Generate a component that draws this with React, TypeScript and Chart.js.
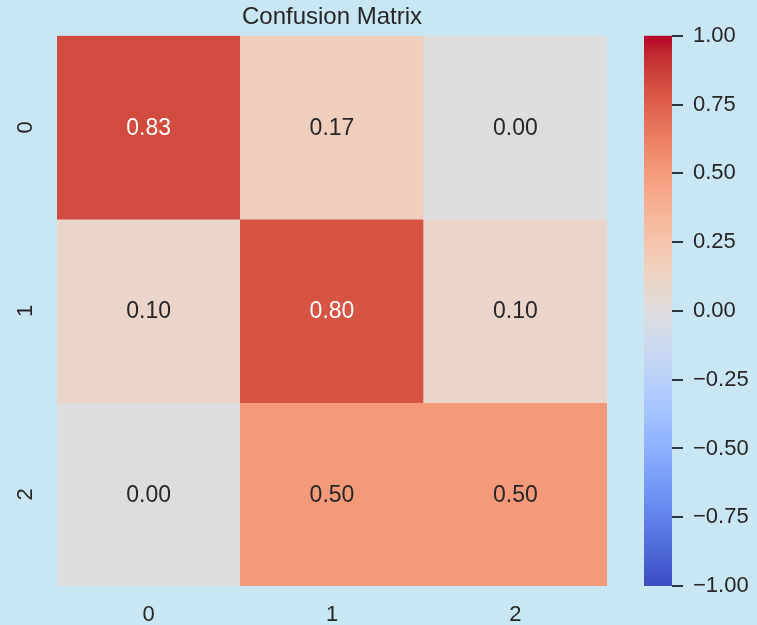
import React, { useEffect, useRef } from "react";
import { Chart, registerables } from "chart.js";

Chart.register(...registerables);

const title = "Confusion Matrix";
const xLabels = ["0", "1", "2"];
const yLabels = ["0", "1", "2"];
const row0 = [0.83, 0.17, 0.0];
const row1 = [0.1, 0.8, 0.1];
const row2 = [0.0, 0.5, 0.5];
const matrix = [row0, row1, row2];
const vmin = -1;
const vmax = 1;
const colorbarTicks = [-1, -0.75, -0.5, -0.25, 0, 0.25, 0.5, 0.75, 1];

// coolwarm colormap reference stops (Moreland)
const COOLWARM: number[][] = [
  [59, 76, 192], [68, 90, 204], [77, 104, 215], [87, 117, 225], [98, 130, 234],
  [108, 142, 241], [119, 154, 247], [130, 165, 251], [141, 176, 254], [152, 185, 255],
  [163, 194, 255], [174, 201, 253], [184, 208, 249], [194, 213, 244], [204, 217, 238],
  [213, 219, 230], [221, 221, 221], [229, 216, 209], [236, 211, 197], [241, 204, 185],
  [245, 196, 173], [247, 187, 160], [247, 177, 148], [247, 166, 135], [244, 154, 123],
  [241, 141, 111], [236, 127, 99], [229, 112, 88], [222, 96, 77], [213, 80, 66],
  [203, 62, 56], [192, 40, 47], [180, 4, 38],
];

function coolwarm(v: number): string {
  let t = (v - vmin) / (vmax - vmin);
  t = Math.max(0, Math.min(1, t));
  const pos = t * (COOLWARM.length - 1);
  const i = Math.min(COOLWARM.length - 2, Math.floor(pos));
  const f = pos - i;
  const a = COOLWARM[i];
  const b = COOLWARM[i + 1];
  const c = a.map((x, k) => Math.round(x + (b[k] - x) * f));
  return `rgb(${c[0]},${c[1]},${c[2]})`;
}

const BG = "#c9e7f3";
const TEXT = "#262626";
const FONT = "'Liberation Sans', Arial, sans-serif";

const bgPlugin = {
  id: "bg",
  beforeDraw(chart: any) {
    const ctx = chart.ctx;
    ctx.save();
    ctx.fillStyle = BG;
    ctx.fillRect(0, 0, chart.width, chart.height);
    ctx.restore();
  },
};

const annotatePlugin = {
  id: "annotate",
  afterDatasetsDraw(chart: any) {
    const ctx = chart.ctx;
    ctx.save();
    ctx.font = `23px ${FONT}`;
    ctx.textAlign = "center";
    ctx.textBaseline = "middle";
    chart.data.datasets.forEach((ds: any, di: number) => {
      const meta = chart.getDatasetMeta(di);
      meta.data.forEach((el: any, j: number) => {
        const v = ds.values[j];
        const cx = el.x;
        const cy = (el.y + el.base) / 2;
        ctx.fillStyle = v > 0.6 ? "#ffffff" : TEXT;
        ctx.fillText(v.toFixed(2), cx, cy + 1);
      });
    });
    ctx.restore();
  },
};

const yLabelPlugin = {
  id: "ylabels",
  afterDraw(chart: any) {
    const ctx = chart.ctx;
    const ys = chart.scales.y;
    ctx.save();
    ctx.font = `22px ${FONT}`;
    ctx.fillStyle = TEXT;
    ctx.textAlign = "center";
    ctx.textBaseline = "middle";
    yLabels.forEach((lab, r) => {
      const py = ys.getPixelForValue(r + 0.5);
      ctx.save();
      ctx.translate(chart.chartArea.left - 31, py);
      ctx.rotate(-Math.PI / 2);
      ctx.fillText(lab, 0, 0);
      ctx.restore();
    });
    ctx.restore();
  },
};

const colorbarPlugin = {
  id: "colorbar",
  beforeDatasetsDraw(chart: any) {
    const ctx = chart.ctx;
    const sp = chart.scales.sp;
    const cb = chart.scales.cb;
    const x1 = sp.right;
    const x0 = x1 - 28;
    const yTop = cb.getPixelForValue(vmax);
    const yBot = cb.getPixelForValue(vmin);
    const g = ctx.createLinearGradient(0, yBot, 0, yTop);
    COOLWARM.forEach((c, i) => {
      g.addColorStop(i / (COOLWARM.length - 1), `rgb(${c[0]},${c[1]},${c[2]})`);
    });
    ctx.save();
    ctx.fillStyle = g;
    ctx.fillRect(x0, yTop, x1 - x0, yBot - yTop);
    ctx.restore();
  },
};

export default function App() {
  const ref = useRef<HTMLCanvasElement | null>(null);

  useEffect(() => {
    if (!ref.current) return;
    const datasets = matrix.map((row, r) => ({
      label: yLabels[r],
      data: row.map(() => [r, r + 1]),
      values: row,
      backgroundColor: row.map((v) => coolwarm(v)),
      borderWidth: 0,
      barPercentage: 1,
      categoryPercentage: 1,
      grouped: false,
    }));

    const chart = new Chart(ref.current, {
      type: "bar",
      data: { labels: xLabels, datasets: datasets as any },
      options: {
        responsive: false,
        animation: false,
        layout: { padding: { left: 57, right: 0, top: 0, bottom: 0 } },
        plugins: {
          legend: { display: false },
          tooltip: { enabled: false },
          title: {
            display: true,
            text: title,
            fullSize: false,
            color: TEXT,
            font: { family: FONT, size: 24, weight: "normal" as any, lineHeight: 1.2 },
            padding: { top: 3, bottom: 4 },
          },
        },
        scales: {
          x: {
            type: "category",
            offset: true,
            grid: { display: false, drawTicks: false },
            border: { display: false },
            ticks: {
              color: TEXT,
              font: { family: FONT, size: 22, lineHeight: 1 },
              padding: 18,
              maxRotation: 0,
            },
            afterFit: (s: any) => {
              s.height = 39;
            },
          },
          y: {
            type: "linear",
            display: false,
            min: 0,
            max: 3,
            reverse: true,
          },
          sp: {
            type: "linear",
            position: "right",
            weight: 0,
            display: true,
            grid: { display: false },
            border: { display: false },
            ticks: { display: false },
            afterFit: (s: any) => {
              s.width = 65;
            },
          },
          cb: {
            type: "linear",
            position: "right",
            weight: 1,
            min: vmin,
            max: vmax,
            afterBuildTicks: (s: any) => {
              s.ticks = colorbarTicks.map((v) => ({ value: v }));
            },
            grid: {
              display: true,
              drawOnChartArea: false,
              drawTicks: true,
              tickLength: 11,
              color: "#2b3a42",
              lineWidth: 2,
            },
            border: { display: false },
            ticks: {
              color: TEXT,
              font: { family: FONT, size: 22 },
              padding: 10,
              callback: (v: any) => {
                const n = Number(v);
                return (n < 0 ? "\u2212" : "") + Math.abs(n).toFixed(2);
              },
            },
            afterFit: (s: any) => {
              s.width = 85;
            },
          },
        },
      } as any,
      plugins: [bgPlugin, colorbarPlugin, annotatePlugin, yLabelPlugin],
    });
    return () => chart.destroy();
  }, []);

  return (
    <div style={{ position: "absolute", left: 0, top: 0, width: 757, height: 625 }}>
      <canvas ref={ref} width={757} height={625} style={{ display: "block" }} />
    </div>
  );
}
